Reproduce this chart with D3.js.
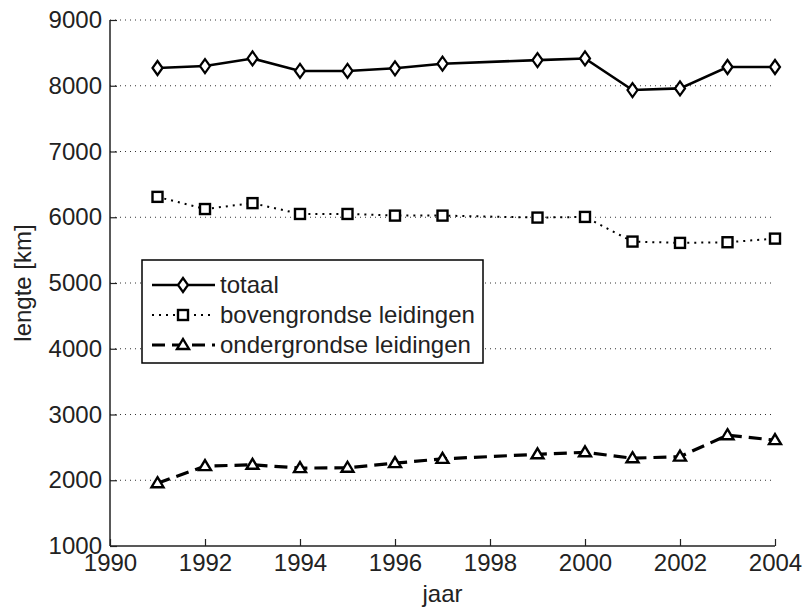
<!DOCTYPE html>
<html><head><meta charset="utf-8">
<script src="https://cdn.jsdelivr.net/npm/d3@7"></script>
<style>body{margin:0;background:#fff}svg{display:block}</style>
</head><body>
<svg id="c" width="803" height="608"></svg>
<script>
const years = [1991,1992,1993,1994,1995,1996,1997,1999,2000,2001,2002,2003,2004];
const totaal = [8270,8300,8415,8225,8225,8265,8335,8390,8415,7935,7960,8285,8285];
const bovengrondse = [6310,6125,6215,6050,6050,6025,6025,5995,6005,5630,5610,5620,5675];
const ondergrondse = [1955,2215,2235,2185,2190,2260,2325,2395,2425,2335,2360,2685,2610];
const xTicks = [1990,1992,1994,1996,1998,2000,2002,2004];
const yTicks = [1000,2000,3000,4000,5000,6000,7000,8000,9000];
const seriesNames = ["totaal","bovengrondse leidingen","ondergrondse leidingen"];

const svg = d3.select("#c");
const font = "'Liberation Sans', Arial, sans-serif";
const FS = 24;
const L=110,R=775,T=20,B=546;
const x = d3.scaleLinear().domain([1990,2004]).range([L,R]);
const y = d3.scaleLinear().domain([1000,9000]).range([B,T]);

// grid
svg.append("g").selectAll("line").data(yTicks.filter(v=>v>1000)).join("line")
  .attr("x1",L).attr("x2",R).attr("y1",d=>y(d)).attr("y2",d=>y(d))
  .attr("stroke","#333").attr("stroke-width",1).attr("stroke-dasharray","1,4");

// axes
const yAxis = svg.append("g").attr("transform",`translate(${L},0)`)
  .call(d3.axisLeft(y).tickValues(yTicks).tickSize(-7).tickPadding(8).tickFormat(d3.format("d")));
const xAxis = svg.append("g").attr("transform",`translate(0,${B})`)
  .call(d3.axisBottom(x).tickValues(xTicks).tickSize(-7).tickPadding(8).tickFormat(d3.format("d")));
[yAxis,xAxis].forEach(a=>{
  a.select(".domain").attr("stroke","#222").attr("stroke-width",1.5);
  a.selectAll(".tick line").attr("stroke","#222").attr("stroke-width",1.2);
  a.selectAll("text").attr("font-family",font).attr("font-size",FS).attr("fill","#222");
});
yAxis.select(".domain").attr("d",`M0,${B}V${T}`);
xAxis.select(".domain").attr("d",`M${L},0H${R}`);

// labels
svg.append("text").attr("x",(L+R)/2).attr("y",602).attr("text-anchor","middle")
  .attr("font-family",font).attr("font-size",FS).attr("fill","#222").text("jaar");
svg.append("text").attr("transform",`translate(31,${(T+B)/2}) rotate(-90)`).attr("text-anchor","middle")
  .attr("font-family",font).attr("font-size",FS).attr("fill","#222").text("lengte [km]");

const line = d3.line().x(d=>x(d[0])).y(d=>y(d[1]));
const styles = [
  {data:totaal, dash:null, w:2.6, marker:"diamond"},
  {data:bovengrondse, dash:"2,5", w:2, marker:"square"},
  {data:ondergrondse, dash:"13,7", w:3.2, marker:"triangle"}
];
function drawMarker(g, type, cx, cy){
  if(type==="diamond"){
    g.append("path").attr("d",`M${cx},${cy-7}L${cx+5},${cy}L${cx},${cy+7}L${cx-5},${cy}Z`)
      .attr("fill","#fff").attr("stroke","#000").attr("stroke-width",2.2);
  } else if(type==="square"){
    g.append("rect").attr("x",cx-5).attr("y",cy-5).attr("width",10).attr("height",10)
      .attr("fill","#fff").attr("stroke","#000").attr("stroke-width",2.4);
  } else {
    g.append("path").attr("d",`M${cx},${cy-6}L${cx+6},${cy+4}L${cx-6},${cy+4}Z`)
      .attr("fill","#fff").attr("stroke","#000").attr("stroke-width",2.4);
  }
}
styles.forEach(s=>{
  const pts = years.map((yr,i)=>[yr,s.data[i]]);
  svg.append("path").datum(pts).attr("d",line).attr("fill","none").attr("stroke","#000")
    .attr("stroke-width",s.w).attr("stroke-dasharray",s.dash);
  const g = svg.append("g");
  pts.forEach(p=>drawMarker(g,s.marker,x(p[0]),y(p[1])));
});

// legend
const lg = svg.append("g");
lg.append("rect").attr("x",142).attr("y",260).attr("width",341).attr("height",103)
  .attr("fill","#fff").attr("stroke","#000").attr("stroke-width",1.5);
styles.forEach((s,i)=>{
  const ry = 285 + i*30;
  lg.append("line").attr("x1",152).attr("x2",215).attr("y1",ry).attr("y2",ry)
    .attr("stroke","#000").attr("stroke-width",s.w).attr("stroke-dasharray",s.dash);
  drawMarker(lg,s.marker,183,ry);
  lg.append("text").attr("x",220).attr("y",ry).attr("dy","0.35em")
    .attr("font-family",font).attr("font-size",FS).attr("fill","#222").text(seriesNames[i]);
});
</script>
</body></html>
